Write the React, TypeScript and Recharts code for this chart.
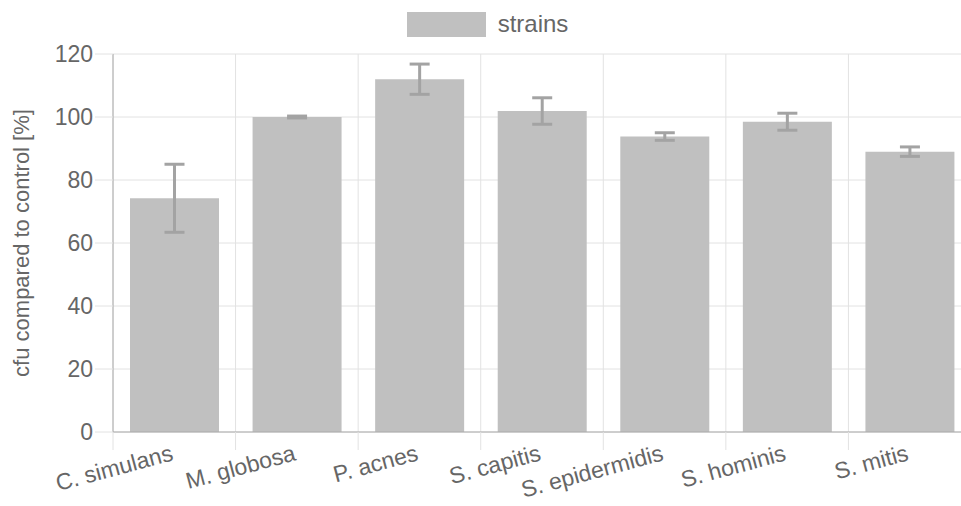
import React from "react";
import { BarChart, Bar, XAxis, YAxis, CartesianGrid, Legend, ErrorBar } from "recharts";

const categories = ["C. simulans", "M. globosa", "P. acnes", "S. capitis", "S. epidermidis", "S. hominis", "S. mitis"];
const values = [74.2, 100, 112, 101.9, 93.8, 98.5, 89];
const errors = [10.8, 0.3, 4.8, 4.2, 1.2, 2.7, 1.5];
const yTicks = [0, 20, 40, 60, 80, 100, 120];

const data = categories.map((name, i) => ({ name, strains: values[i], err: errors[i] }));

const FONT = "'Liberation Sans', Arial, sans-serif";
const TEXT = "#666";
const GRID = "#e2e2e2";
const BAR = "#c0c0c0";

function LegendContent() {
  return (
    <div style={{ height: 54, display: "flex", justifyContent: "center", alignItems: "flex-start", fontFamily: FONT }}>
      <div style={{ display: "flex", alignItems: "center", marginTop: 10 }}>
        <span style={{ display: "inline-block", width: 79, height: 25, background: BAR }} />
        <span style={{ marginLeft: 12, fontSize: 24, color: TEXT }}>strains</span>
      </div>
    </div>
  );
}

function CategoryTick(props: any) {
  const { x, y, payload } = props;
  const half = payload.offset ?? 0;
  return (
    <g>
      <line x1={x - half} y1={y} x2={x - half} y2={y + 18} stroke={GRID} />
      <text
        transform={`translate(${x},${y + 28}) rotate(-15)`}
        textAnchor="end"
        fill={TEXT}
        fontSize={23}
        fontFamily={FONT}
      >
        {payload.value}
      </text>
    </g>
  );
}

export default function App() {
  return (
    <div style={{ position: "absolute", left: 0, top: 0, width: 961, height: 506, overflow: "hidden", background: "#fff" }}>
      <BarChart width={975} height={506} data={data} margin={{ top: 0, right: 4, left: 0, bottom: 0 }} barSize={89}>
        <CartesianGrid
          stroke={GRID}
          verticalCoordinatesGenerator={({ offset }: any) =>
            categories.map((_, i) => offset.left + (i * offset.width) / categories.length).concat(offset.left + offset.width)
          }
        />
        <Legend verticalAlign="top" content={LegendContent} wrapperStyle={{ top: 0, left: 0, width: 975, height: 54 }} />
        <XAxis
          dataKey="name"
          height={74}
          stroke="#aaa"
          tickLine={false}
          tickSize={0}
          tickMargin={0}
          interval={0}
          tick={CategoryTick}
        />
        <YAxis
          width={113}
          domain={[0, 120]}
          ticks={yTicks}
          stroke="#aaa"
          tickSize={18}
          tickMargin={2}
          tickLine={{ stroke: GRID }}
          tick={{ fill: TEXT, fontSize: 23, fontFamily: FONT }}
          label={{
            value: "cfu compared to control [%]",
            angle: -90,
            position: "insideLeft",
            offset: 21,
            style: { textAnchor: "middle", fill: TEXT, fontSize: 22, fontFamily: FONT },
          }}
        />
        <Bar dataKey="strains" fill={BAR} isAnimationActive={false}>
          <ErrorBar dataKey="err" width={10} stroke="#a3a3a3" strokeWidth={3} direction="y" isAnimationActive={false} />
        </Bar>
      </BarChart>
    </div>
  );
}
